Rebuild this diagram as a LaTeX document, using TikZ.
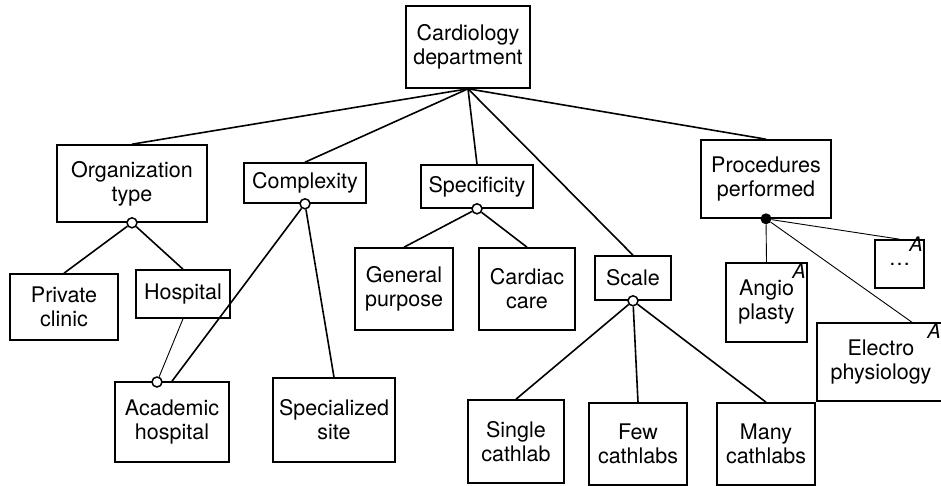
\documentclass[tikz,border=0pt]{standalone}
\usepackage{fontspec}
\setmainfont{TeX Gyre Heros}
\begin{document}
\begin{tikzpicture}[
        x=1pt, y=-1pt,
        feature/.style={draw, line width=1.6pt, align=center, inner sep=0pt,
          font=\fontsize{21.5}{24}\selectfont},
        link/.style={line width=1.6pt},
        thinlink/.style={line width=0.9pt},
        altdot/.style={circle, draw, line width=1.5pt, fill=white,
          inner sep=0pt, minimum size=10pt},
        orddot/.style={circle, fill=black, inner sep=0pt, minimum size=11pt},
        abstract/.style={anchor=north east, inner sep=2pt,
          font=\fontsize{20}{22}\selectfont\itshape}
      ]
        \clip (0,0) rectangle (941,486);

% Root
        \node[feature, minimum width=124pt, minimum height=82pt] (cardio) at (468,47)
          {Cardiology\\department};

% First level
        \node[feature, minimum width=150pt, minimum height=77pt] (orgtype) at (132,183.5)
          {Organization\\type};
        \node[feature, minimum width=122pt, minimum height=40pt] (complexity) at (305,183)
          {Complexity};
        \node[feature, minimum width=112pt, minimum height=43pt] (specificity) at (477,186.5)
          {Specificity};
        \node[feature, minimum width=76pt, minimum height=44pt] (scale) at (633,278)
          {Scale};
        \node[feature, minimum width=130pt, minimum height=78pt] (procedures) at (766,179)
          {Procedures\\performed};

% Second level
        \node[feature, minimum width=108pt, minimum height=66pt] (private) at (64,307)
          {Private\\clinic};
        \node[feature, minimum width=94pt, minimum height=48pt] (hospital) at (183,294)
          {Hospital};
        \node[feature, minimum width=98pt, minimum height=82pt] (general) at (404,289)
          {General\\purpose};
        \node[feature, minimum width=96pt, minimum height=82pt] (cardiac) at (527,289)
          {Cardiac\\care};
        \node[feature, minimum width=81pt, minimum height=79pt] (angio) at (766.5,302.5)
          {Angio\\plasty};
        \node[feature, minimum width=49pt, minimum height=48pt] (etc) at (899.5,264)
          {\raisebox{-3pt}{\dots}};
        \node[feature, minimum width=128pt, minimum height=78pt] (electro) at (881,362)
          {Electro\\physiology};

% Bottom row
        \node[feature, minimum width=114pt, minimum height=80pt] (academic) at (172,422)
          {Academic\\hospital};
        \node[feature, minimum width=122pt, minimum height=84pt] (specialized) at (334,420)
          {Specialized\\site};
        \node[feature, minimum width=96pt, minimum height=83pt] (single) at (516,441.5)
          {Single\\cathlab};
        \node[feature, minimum width=98pt, minimum height=82pt] (few) at (638,444)
          {Few\\cathlabs};
        \node[feature, minimum width=98pt, minimum height=82pt] (many) at (766,444)
          {Many\\cathlabs};

% Abstract marks
        \node[abstract] (angioabs) at (angio.north east) {A};
        \node[abstract] (etcabs) at ([yshift=4pt]etc.north east) {A};
        \node[abstract] (electroabs) at ([xshift=-3pt]electro.north east) {A};

% Group markers
        \node[altdot] (orgalt) at (orgtype.south) {};
        \node[altdot] (cplxalt) at (complexity.south) {};
        \node[altdot] (specalt) at (specificity.south) {};
        \node[altdot] (scalealt) at (scale.south) {};
        \node[orddot] (procdot) at (procedures.south) {};
        \node[altdot] (acadopt) at (157,382) {};
        \coordinate (electrotop) at (913,323);

% Root links
        \draw[link] (cardio.south) -- (orgtype.north);
        \draw[link] (cardio.south) -- (complexity.north);
        \draw[link] (cardio.south) -- (specificity.north);
        \draw[link] (cardio.south) -- (scale.north);
        \draw[link] (cardio.south) -- (procedures.north);

% Group links
        \draw[link] (orgalt) -- (private.north);
        \draw[link] (orgalt) -- (hospital.north);
        \draw[link] (cplxalt) -- (academic.north);
        \draw[link] (cplxalt) -- (specialized.north);
        \draw[link] (specalt) -- (general.north);
        \draw[link] (specalt) -- (cardiac.north);
        \draw[link] (scalealt) -- (single.north);
        \draw[link] (scalealt) -- (few.north);
        \draw[link] (scalealt) -- (many.north);

% Thin links
        \draw[thinlink] (hospital.south) -- (acadopt);
        \draw[thinlink] (procdot) -- (angio.north);
        \draw[thinlink] (procdot) -- (etc.north);
        \draw[thinlink] (procdot) -- (electrotop);

      \end{tikzpicture}
\end{document}
